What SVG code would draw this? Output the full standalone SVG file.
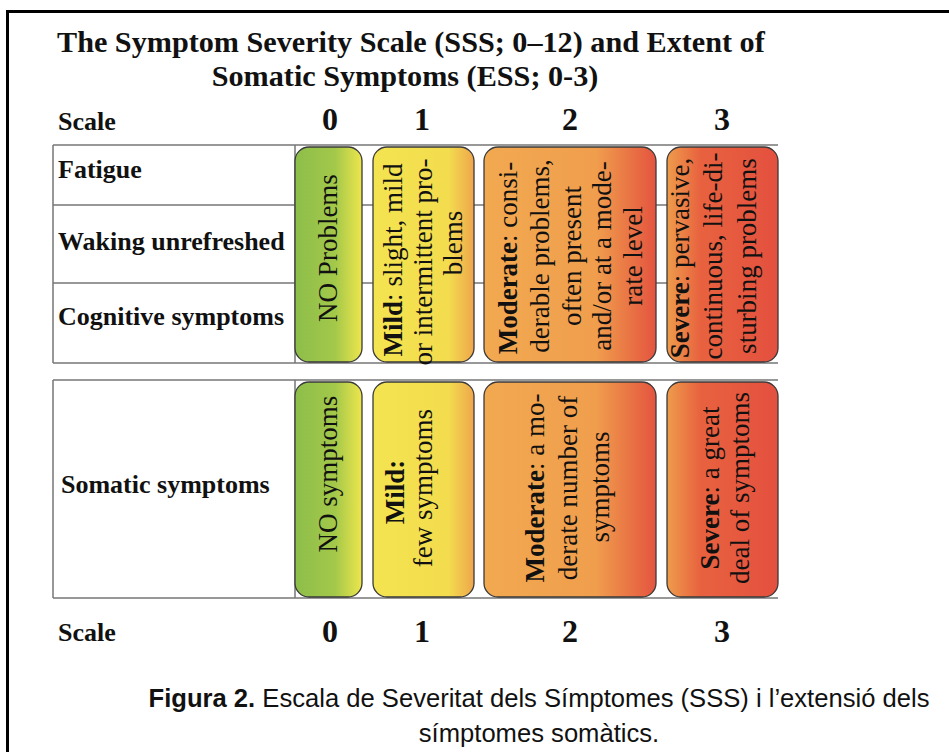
<svg xmlns="http://www.w3.org/2000/svg" width="949" height="752" viewBox="0 0 949 752">
<defs>
<style>
.t{font-family:"Liberation Serif","Times New Roman",serif;fill:#111}
.title{font-size:30.2px;font-weight:bold}
.lab{font-size:26px;font-weight:bold}
.num{font-size:32px;font-weight:bold;text-anchor:middle}
.bx{font-size:27px;text-anchor:middle}
.b{font-weight:bold}
.cap{font-family:"Liberation Sans",Arial,sans-serif;font-size:25.6px;fill:#111;text-anchor:middle}
.grid{stroke:#777;stroke-width:1.5;fill:none}
.box{stroke:#3a3a3a;stroke-width:1.3}
</style>
<linearGradient id="gG" x1="0" y1="0" x2="1" y2="0">
<stop offset="0" stop-color="#8DBE4A"/><stop offset="0.6" stop-color="#A3C84A"/><stop offset="1" stop-color="#EEE64C"/>
</linearGradient>
<linearGradient id="gY" x1="0" y1="0" x2="1" y2="0">
<stop offset="0" stop-color="#F4E450"/><stop offset="0.75" stop-color="#F3DC4E"/><stop offset="1" stop-color="#EFA64C"/>
</linearGradient>
<linearGradient id="gO" x1="0" y1="0" x2="1" y2="0">
<stop offset="0" stop-color="#F2A950"/><stop offset="0.65" stop-color="#F09E4D"/><stop offset="1" stop-color="#E4543F"/>
</linearGradient>
<linearGradient id="gR" x1="0" y1="0" x2="1" y2="0">
<stop offset="0" stop-color="#EE9C4B"/><stop offset="0.3" stop-color="#E8623F"/><stop offset="1" stop-color="#E4503F"/>
</linearGradient>
</defs>
<rect width="949" height="752" fill="#fff"/>
<path d="M7.5,760 V11.5 H960" fill="none" stroke="#000" stroke-width="3"/>

<g id="title">
<text class="t title" x="57" y="52">The Symptom Severity Scale (SSS; 0–12) and Extent of</text>
<text class="t title" x="405" y="86" text-anchor="middle">Somatic Symptoms (ESS; 0-3)</text>
</g>

<g id="scale-top">
<text class="t lab" x="58" y="130">Scale</text>
<text class="t num" x="330" y="130">0</text>
<text class="t num" x="422" y="130">1</text>
<text class="t num" x="570" y="130">2</text>
<text class="t num" x="722" y="130">3</text>
</g>

<g id="table1-grid">
<path class="grid" d="M53,145 H778 M53,205 H778 M53,283 H778 M53,363 H778 M53,145 V363 M295,145 V363"/>
<text class="t lab" x="58" y="178">Fatigue</text>
<text class="t lab" x="58" y="250">Waking unrefreshed</text>
<text class="t lab" x="58" y="325">Cognitive symptoms</text>
</g>

<g id="t1-none">
<rect class="box" x="295" y="147" width="67" height="215" rx="14" fill="url(#gG)"/>
<text class="t bx" transform="translate(337,248) rotate(-90)">NO Problems</text>
</g>
<g id="t1-mild">
<rect class="box" x="373" y="147" width="101" height="215" rx="14" fill="url(#gY)"/>
<text class="t bx" transform="translate(402,260) rotate(-90)"><tspan class="b">Mild</tspan>: slight, mild</text>
<text class="t bx" transform="translate(432,262) rotate(-90)">or intermittent pro-</text>
<text class="t bx" transform="translate(462,243) rotate(-90)">blems</text>
</g>
<g id="t1-moderate">
<rect class="box" x="484" y="147" width="172" height="215" rx="14" fill="url(#gO)"/>
<text class="t bx" transform="translate(517,258) rotate(-90)"><tspan class="b">Moderate</tspan>: consi-</text>
<text class="t bx" transform="translate(549,256) rotate(-90)">derable problems,</text>
<text class="t bx" transform="translate(581,256) rotate(-90)">often present</text>
<text class="t bx" transform="translate(611,256) rotate(-90)">and/or at a mode-</text>
<text class="t bx" transform="translate(642,256) rotate(-90)">rate level</text>
</g>
<g id="t1-severe">
<rect class="box" x="667" y="147" width="111" height="215" rx="14" fill="url(#gR)"/>
<text class="t bx" transform="translate(689,258) rotate(-90)"><tspan class="b">Severe</tspan>: pervasive,</text>
<text class="t bx" transform="translate(722,256) rotate(-90)">continuous, life-di-</text>
<text class="t bx" transform="translate(756,256) rotate(-90)">sturbing problems</text>
</g>

<g id="table2-grid">
<path class="grid" d="M53,380 H778 M53,598 H778 M53,380 V598 M295,380 V598"/>
<text class="t lab" x="61" y="493">Somatic symptoms</text>
</g>

<g id="t2-none">
<rect class="box" x="295" y="382" width="67" height="215" rx="14" fill="url(#gG)"/>
<text class="t bx" transform="translate(337,474) rotate(-90)">NO symptoms</text>
</g>
<g id="t2-mild">
<rect class="box" x="373" y="382" width="101" height="215" rx="14" fill="url(#gY)"/>
<text class="t bx b" transform="translate(404,492) rotate(-90)">Mild:</text>
<text class="t bx" transform="translate(432,488) rotate(-90)">few symptoms</text>
</g>
<g id="t2-moderate">
<rect class="box" x="484" y="382" width="172" height="215" rx="14" fill="url(#gO)"/>
<text class="t bx" transform="translate(544,488) rotate(-90)"><tspan class="b">Moderate</tspan>: a mo-</text>
<text class="t bx" transform="translate(577,488) rotate(-90)">derate number of</text>
<text class="t bx" transform="translate(609,487) rotate(-90)">symptoms</text>
</g>
<g id="t2-severe">
<rect class="box" x="667" y="382" width="111" height="215" rx="14" fill="url(#gR)"/>
<text class="t bx" transform="translate(719,488) rotate(-90)"><tspan class="b">Severe</tspan>: a great</text>
<text class="t bx" transform="translate(749,488) rotate(-90)">deal of symptoms</text>
</g>

<g id="scale-bottom">
<text class="t lab" x="58" y="641">Scale</text>
<text class="t num" x="330" y="642">0</text>
<text class="t num" x="422" y="642">1</text>
<text class="t num" x="570" y="642">2</text>
<text class="t num" x="722" y="642">3</text>
</g>

<g id="caption">
<text class="cap" x="539" y="707"><tspan font-weight="bold">Figura 2.</tspan> Escala de Severitat dels Símptomes (SSS) i l’extensió dels</text>
<text class="cap" x="539" y="742">símptomes somàtics.</text>
</g>
</svg>
